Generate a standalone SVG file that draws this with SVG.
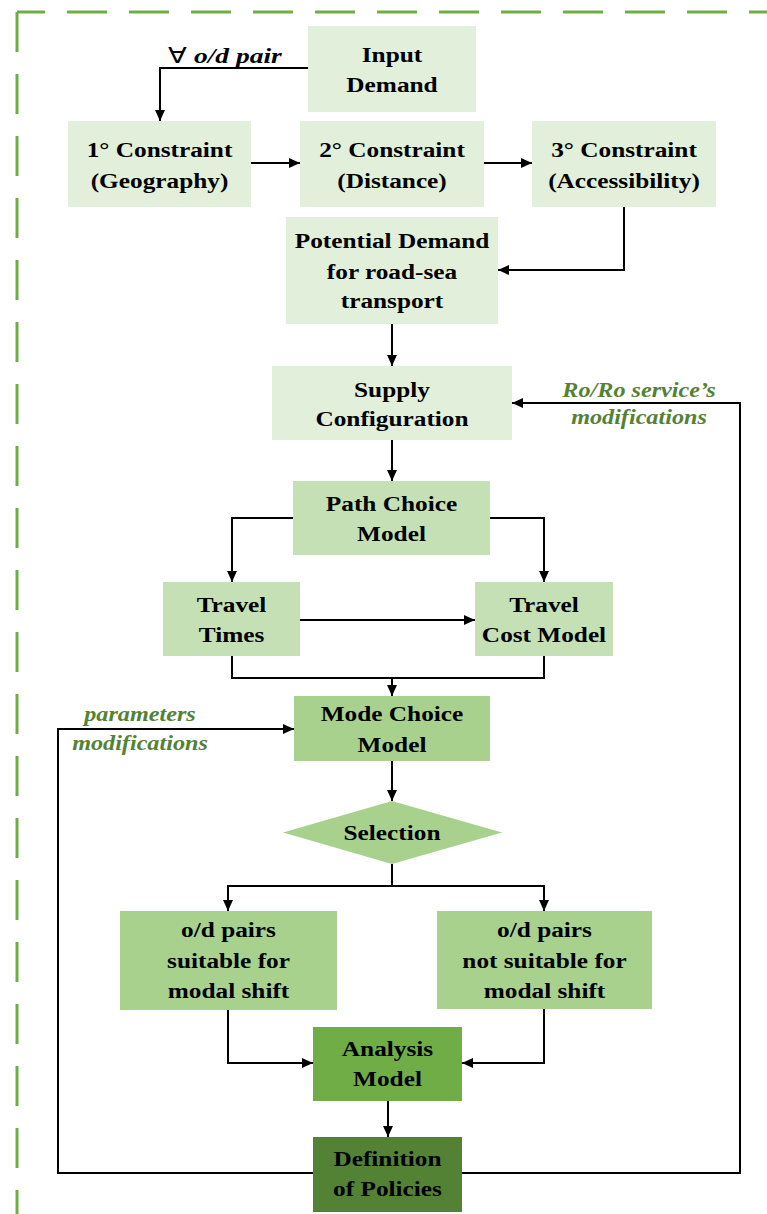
<svg xmlns="http://www.w3.org/2000/svg" width="767" height="1214" viewBox="0 0 767 1214">
<style>
.t{font-family:"Liberation Serif","Times New Roman",serif;font-weight:bold;font-size:22px;fill:#000;text-anchor:middle}
.lbl{font-family:"Liberation Serif","Times New Roman",serif;font-weight:bold;font-style:italic;font-size:22px;fill:#548235;text-anchor:middle}
.c{fill:none;stroke:#000;stroke-width:2}
.a{marker-end:url(#ah)}
.border{fill:none;stroke:#70ad47;stroke-width:3;stroke-dasharray:40 22}
.g1{fill:#e2efda}
.g2{fill:#c5e0b4}
.g3{fill:#a9d18e}
.g4{fill:#70ad47}
.g5{fill:#548235}
</style>
<defs>
<marker id="ah" viewBox="0 0 10 10" refX="10" refY="5" markerWidth="11" markerHeight="11" markerUnits="userSpaceOnUse" orient="auto">
<path d="M0,0.5 L10,5 L0,9.5 z" fill="#000"/>
</marker>
</defs>
<rect width="767" height="1214" fill="#fff"/>
<g id="border">
<path class="border" d="M17,12 H767" stroke-dashoffset="12"/>
<path class="border" d="M17,12 V1214"/>
</g>
<g id="connectors">
<path class="c a" d="M308,68 H160 V121"/>
<path class="c a" d="M251,163 H300"/>
<path class="c a" d="M484,163 H532"/>
<path class="c a" d="M624,207 V270 H498"/>
<path class="c a" d="M392,324 V366"/>
<path class="c a" d="M462,1173 H740 V403 H512"/>
<path class="c a" d="M392,440 V481"/>
<path class="c a" d="M293,518 H232 V582"/>
<path class="c a" d="M490,518 H544 V582"/>
<path class="c a" d="M300,620 H475"/>
<path class="c" d="M232,656 V678 H544 V656"/>
<path class="c a" d="M392,678 V696"/>
<path class="c a" d="M313,1173 H58 V729 H294"/>
<path class="c a" d="M392,761 V801"/>
<path class="c a" d="M392,864 V886 H228 V911"/>
<path class="c a" d="M392,886 H544 V911"/>
<path class="c a" d="M228,1010 V1063 H313"/>
<path class="c a" d="M544,1009 V1063 H462"/>
<path class="c a" d="M388,1101 V1137"/>
</g>
<g id="labels">
<text class="t" transform="matrix(1.25 0 0 1 225 0)" y="63"><tspan x="0" style="font-weight:normal">∀ </tspan><tspan font-style="italic">o/d pair</tspan></text>
<text class="lbl" transform="matrix(1.1 0 0 1 639 0)"><tspan x="0" y="397">Ro/Ro service’s</tspan><tspan x="0" y="424">modifications</tspan></text>
<text class="lbl" transform="matrix(1.1 0 0 1 140 0)"><tspan x="0" y="721">parameters</tspan><tspan x="0" y="750">modifications</tspan></text>
</g>
<g id="input-demand">
<rect class="g1" x="308" y="26" width="168" height="86"/>
<text class="t" transform="matrix(1.15 0 0 1 392 0)"><tspan x="0" y="62">Input</tspan><tspan x="0" y="92">Demand</tspan></text>
</g>
<g id="constraint-1">
<rect class="g1" x="68" y="121" width="183" height="86"/>
<text class="t" transform="matrix(1.15 0 0 1 159.5 0)"><tspan x="0" y="157">1° Constraint</tspan><tspan x="0" y="188">(Geography)</tspan></text>
</g>
<g id="constraint-2">
<rect class="g1" x="300" y="121" width="184" height="86"/>
<text class="t" transform="matrix(1.15 0 0 1 392 0)"><tspan x="0" y="157">2° Constraint</tspan><tspan x="0" y="188">(Distance)</tspan></text>
</g>
<g id="constraint-3">
<rect class="g1" x="532" y="121" width="184" height="86"/>
<text class="t" transform="matrix(1.15 0 0 1 624 0)"><tspan x="0" y="157">3° Constraint</tspan><tspan x="0" y="188">(Accessibility)</tspan></text>
</g>
<g id="potential-demand">
<rect class="g1" x="286" y="217" width="212" height="107"/>
<text class="t" transform="matrix(1.15 0 0 1 392 0)"><tspan x="0" y="248">Potential Demand</tspan><tspan x="0" y="279">for road-sea</tspan><tspan x="0" y="308">transport</tspan></text>
</g>
<g id="supply-configuration">
<rect class="g1" x="272" y="366" width="240" height="74"/>
<text class="t" transform="matrix(1.15 0 0 1 392 0)"><tspan x="0" y="397">Supply</tspan><tspan x="0" y="426">Configuration</tspan></text>
</g>
<g id="path-choice">
<rect class="g2" x="293" y="481" width="197" height="74"/>
<text class="t" transform="matrix(1.15 0 0 1 391.5 0)"><tspan x="0" y="511">Path Choice</tspan><tspan x="0" y="541">Model</tspan></text>
</g>
<g id="travel-times">
<rect class="g2" x="163" y="582" width="137" height="74"/>
<text class="t" transform="matrix(1.15 0 0 1 231.5 0)"><tspan x="0" y="612">Travel</tspan><tspan x="0" y="642">Times</tspan></text>
</g>
<g id="travel-cost">
<rect class="g2" x="475" y="582" width="138" height="74"/>
<text class="t" transform="matrix(1.15 0 0 1 544 0)"><tspan x="0" y="612">Travel</tspan><tspan x="0" y="642">Cost Model</tspan></text>
</g>
<g id="mode-choice">
<rect class="g3" x="294" y="696" width="196" height="65"/>
<text class="t" transform="matrix(1.15 0 0 1 392 0)"><tspan x="0" y="721">Mode Choice</tspan><tspan x="0" y="752">Model</tspan></text>
</g>
<g id="selection">
<polygon class="g3" points="283,832.5 392,801 502,832.5 392,864"/>
<text class="t" transform="matrix(1.15 0 0 1 392 0)" x="0" y="840">Selection</text>
</g>
<g id="suitable">
<rect class="g3" x="120" y="911" width="217" height="99"/>
<text class="t" transform="matrix(1.15 0 0 1 228.5 0)"><tspan x="0" y="937">o/d pairs</tspan><tspan x="0" y="968">suitable for</tspan><tspan x="0" y="998">modal shift</tspan></text>
</g>
<g id="not-suitable">
<rect class="g3" x="437" y="911" width="215" height="98"/>
<text class="t" transform="matrix(1.15 0 0 1 544.5 0)"><tspan x="0" y="937">o/d pairs</tspan><tspan x="0" y="968">not suitable for</tspan><tspan x="0" y="998">modal shift</tspan></text>
</g>
<g id="analysis-model">
<rect class="g4" x="313" y="1027" width="149" height="74"/>
<text class="t" transform="matrix(1.15 0 0 1 387.5 0)"><tspan x="0" y="1056">Analysis</tspan><tspan x="0" y="1086">Model</tspan></text>
</g>
<g id="definition-policies">
<rect class="g5" x="313" y="1137" width="149" height="75"/>
<text class="t" transform="matrix(1.15 0 0 1 387.5 0)"><tspan x="0" y="1166">Definition</tspan><tspan x="0" y="1196">of Policies</tspan></text>
</g>
</svg>
